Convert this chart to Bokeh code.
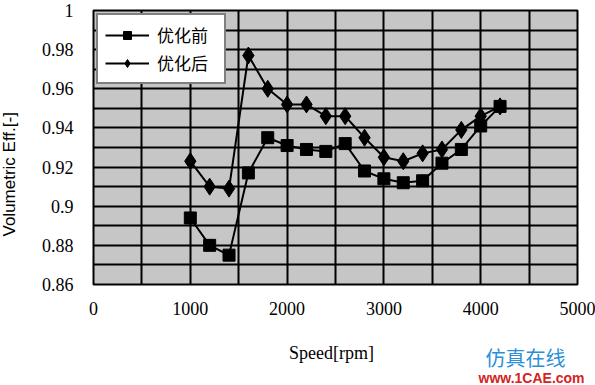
import math
from bokeh.plotting import figure
from bokeh.models import Range1d, FixedTicker, Legend, LegendItem, Label
from bokeh.embed import file_html
from bokeh.resources import INLINE

# ---- data ----
speed = [1000, 1200, 1400, 1600, 1800, 2000, 2200, 2400, 2600, 2800,
         3000, 3200, 3400, 3600, 3800, 4000, 4200]
before = [0.894, 0.880, 0.875, 0.917, 0.935, 0.931, 0.929, 0.928, 0.932, 0.918,
          0.914, 0.912, 0.913, 0.922, 0.929, 0.941, 0.951]
after = [0.923, 0.910, 0.909, 0.977, 0.960, 0.952, 0.952, 0.946, 0.946, 0.935,
         0.925, 0.923, 0.927, 0.929, 0.939, 0.946, 0.951]
series_names = ["优化前", "优化后"]
x_ticks = [0, 1000, 2000, 3000, 4000, 5000]
y_ticks = [0.86, 0.88, 0.90, 0.92, 0.94, 0.96, 0.98, 1.0]
y_tick_labels = ["0.86", "0.88", "0.9", "0.92", "0.94", "0.96", "0.98", "1"]
x_title = "Speed[rpm]"
y_title = "Volumetric Eff.[-]"
watermark_cn = "仿真在线"
watermark_url = "www.1CAE.com"

W, H = 595, 385
BL, BR, BT, BB = 93, 18, 10, 101
p = figure(width=W, height=H, output_backend="svg", toolbar_location=None,
           x_range=Range1d(0, 5000), y_range=Range1d(0.86, 1.0),
           min_border_left=BL, min_border_right=BR, min_border_top=BT,
           min_border_bottom=BB)

p.background_fill_color = "#c6c6c6"
p.border_fill_color = "white"
p.outline_line_color = "black"
p.outline_line_width = 2

# grid
p.xgrid.ticker = FixedTicker(ticks=[i * 500 for i in range(11)])
p.ygrid.ticker = FixedTicker(ticks=[0.86 + i * 0.01 for i in range(15)])
for g in (p.xgrid, p.ygrid):
    g.grid_line_color = "black"
    g.grid_line_width = 2

# axes
p.xaxis.ticker = FixedTicker(ticks=x_ticks)
p.yaxis.ticker = FixedTicker(ticks=y_ticks)
p.yaxis.major_label_overrides = {t: l for t, l in zip(y_ticks, y_tick_labels)}
for ax in (p.xaxis, p.yaxis):
    ax.axis_line_color = None
    ax.major_tick_line_color = None
    ax.minor_tick_line_color = None
    ax.major_tick_out = 0
    ax.major_tick_in = 0
    ax.major_label_text_font = "Liberation Serif"
    ax.major_label_text_font_size = "18px"
    ax.major_label_text_color = "black"
p.xaxis.major_label_standoff = 17
p.yaxis.major_label_standoff = 20

# y title as a rotated label in the left panel
p.add_layout(Label(x=0, y=0.86, x_offset=-84, y_offset=48, angle=math.pi / 2,
                   text=y_title, text_font="Liberation Sans",
                   text_font_size="17px", text_color="black",
                   text_align="left", text_baseline="middle"), "left")

# x title and watermark as labels in the panel below the plot
p.add_layout(Label(x=2500, y=0.86, x_offset=-4, y_offset=-68, text=x_title,
                   text_font="Liberation Serif", text_font_size="18px",
                   text_color="black", text_align="center",
                   text_baseline="middle"), "below")
p.add_layout(Label(x=5000, y=0.86, x_offset=-92, y_offset=-73, text=watermark_cn,
                   text_font="Noto Sans CJK SC", text_font_size="20px",
                   text_color="#2b8fd6", text_baseline="middle", text_align="left"),
             "below")
p.add_layout(Label(x=5000, y=0.86, x_offset=-99, y_offset=-93, text=watermark_url,
                   text_font="Liberation Sans", text_font_size="14px",
                   text_font_style="bold",
                   text_color="#d42323", text_baseline="middle", text_align="left"),
             "below")

# series
l1 = p.line(speed, before, line_color="black", line_width=2)
s1 = p.scatter(speed, before, marker="square", size=12,
               fill_color="black", line_color="black")
l2 = p.line(speed, after, line_color="black", line_width=2)
s2 = p.scatter(speed, after, marker="diamond", size=17,
               fill_color="black", line_color="black")

legend = Legend(items=[LegendItem(label=series_names[0], renderers=[l1, s1]),
                       LegendItem(label=series_names[1], renderers=[l2, s2])],
                location="top_left", margin=3, padding=7, spacing=3,
                glyph_width=44, glyph_height=20, label_height=20,
                label_width=60, label_standoff=8,
                label_text_font="Noto Sans CJK SC", label_text_font_size="17px",
                label_text_color="black",
                border_line_color="black", border_line_width=2,
                background_fill_color="white", background_fill_alpha=1)
p.add_layout(legend)

open("out.html", "w").write(file_html(p, INLINE))
